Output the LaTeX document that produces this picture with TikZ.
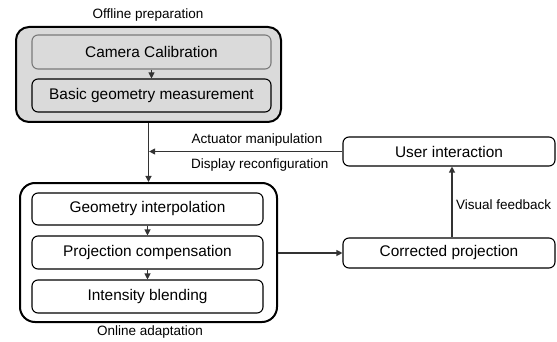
\documentclass[tikz,border=0pt]{standalone}
\usepackage{fontspec}
\setmainfont{Liberation Sans}
\usetikzlibrary{arrows.meta,calc}
\definecolor{boxgray}{HTML}{DADADA}
\definecolor{edgegray}{HTML}{7A7A7A}
\tikzset{
  outerbox/.style={draw=black, line width=2pt, rounded corners=13pt, inner sep=0pt},
  stagebox/.style={draw=black, line width=1.1pt, rounded corners=6pt, inner sep=0pt, fill=white,
     font=\fontsize{15.4}{18}\selectfont},
  lbl/.style={font=\fontsize{13.5}{16}\selectfont, inner sep=0pt},
  conn/.style={draw=black!80, line width=1.1pt, -{Triangle[length=6pt,width=6pt]}},
  plain/.style={draw=black!80, line width=1.1pt}
}
\begin{document}
\begin{tikzpicture}[x=1pt,y=-1pt]
\useasboundingbox (0,0) rectangle (557,342);
% offline group
\node[outerbox, fill=boxgray, minimum width=265pt, minimum height=95pt] (off) at (148.5,74.5) {};
\node[stagebox, fill=boxgray, draw=edgegray, minimum width=239pt, minimum height=34pt] (cc) at (151.5,52) {Camera Calibration};
\node[stagebox, fill=boxgray, minimum width=239pt, minimum height=33pt] (bg) at (151.5,95.5) {Basic geometry measurement};
\node[lbl] (offl) at (148,15) {Offline preparation};
% online group
\node[outerbox, fill=white, minimum width=257pt, minimum height=139pt, rounded corners=15pt] (on) at (148.5,252.5) {};
\node[stagebox, minimum width=231pt, minimum height=32pt] (gi) at (147.5,209) {Geometry interpolation};
\node[stagebox, minimum width=231pt, minimum height=33pt] (pc) at (147.5,252.5) {Projection compensation};
\node[stagebox, minimum width=231pt, minimum height=33pt] (ib) at (147.5,296.5) {Intensity blending};
\node[lbl] (onl) at (150,332) {Online adaptation};
% right side
\node[stagebox, minimum width=212pt, minimum height=29pt] (ui) at (449,151.5) {User interaction};
\node[stagebox, minimum width=212pt, minimum height=30pt] (cp) at (449,253) {Corrected projection};
% connectors
\draw[conn] (cc.south) -- (bg.north);
\draw[conn] (gi.south) -- (pc.north);
\draw[conn] (pc.south) -- (ib.north);
\draw[conn] (off.south) -- (on.north);
\coordinate (j) at (off.south |- ui.west);
\draw[conn] (ui.west) -- ([xshift=0.6pt]j);
\node[lbl] (am) at (257,140) {Actuator manipulation};
\node[lbl, anchor=west] (dr) at (191,165) {Display reconfiguration};
\draw[conn] (on.east |- cp.west) -- (cp.west);
\coordinate (vb) at ([xshift=3pt]cp.north);
\draw[conn] (vb) -- (vb |- ui.south);
\node[lbl, anchor=west] (vf) at (456,205) {Visual feedback};
\end{tikzpicture}
\end{document}
